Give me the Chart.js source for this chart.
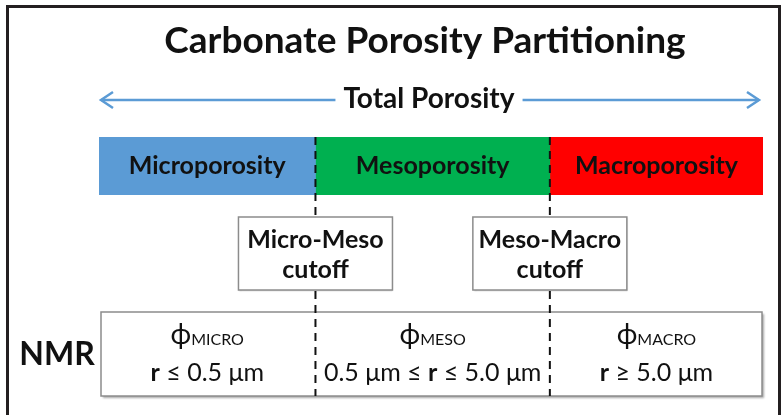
<!DOCTYPE html>
<html>
<head>
<meta charset="utf-8">
<script src="https://cdn.jsdelivr.net/npm/chart.js@4.4.1/dist/chart.umd.min.js"></script>
<style>
  html, body { margin: 0; padding: 0; background: #fff; }
  #wrap { width: 781px; height: 415px; }
</style>
</head>
<body>
<div id="wrap"><canvas id="myChart" width="781" height="415"></canvas></div>
<script>
// diagram content
const chartTitle = 'Carbonate Porosity Partitioning';
const bandLabel = 'Total Porosity';
const partitions = ['Microporosity', 'Mesoporosity', 'Macroporosity'];
const partitionShare = [32.6, 35.3, 32.1]; // width of each class along the band
const partitionColors = ['#5b9bd5', '#00b050', '#ff0000'];
const cutoffLabels = [['Micro-Meso', 'cutoff'], ['Meso-Macro', 'cutoff']];
const nmrLabel = 'NMR';
const nmrSymbols = ['MICRO', 'MESO', 'MACRO'];
const nmrRanges = ['r ≤ 0.5 μm', '0.5 μm ≤ r ≤ 5.0 μm', 'r ≥ 5.0 μm'];

const FONT = 'Lato, "Open Sans", sans-serif';
const INK = '#111';

// write a line made of pieces with their own font, centred on cx
function richText(ctx, pieces, cx, cy) {
    let total = 0;
    pieces.forEach(p => { ctx.font = p.font; p.w = ctx.measureText(p.t).width; total += p.w; });
    let x = cx - total / 2;
    ctx.textAlign = 'left';
    pieces.forEach(p => {
        ctx.font = p.font;
        ctx.textBaseline = 'alphabetic';
        ctx.fillText(p.t, x, cy + (p.dy || 0));
        x += p.w;
    });
}

const diagramPlugin = {
    id: 'diagram',
    afterDraw(chart) {
        const ctx = chart.ctx;
        const xs = chart.scales.x;
        const area = chart.chartArea;

        // cumulative boundaries of the partitions
        const edges = [0];
        partitionShare.forEach(v => edges.push(edges[edges.length - 1] + v));
        const px = edges.map(v => xs.getPixelForValue(v));

        ctx.save();
        ctx.fillStyle = INK;

        // outer frame (open at the bottom)
        ctx.strokeStyle = '#231f20';
        ctx.lineWidth = 3;
        ctx.beginPath();
        ctx.moveTo(7.5, 415);
        ctx.lineTo(7.5, 6.5);
        ctx.lineTo(779.5, 6.5);
        ctx.lineTo(779.5, 415);
        ctx.stroke();

        // title
        ctx.font = 'bold 37px ' + FONT;
        ctx.textAlign = 'center';
        ctx.textBaseline = 'middle';
        ctx.fillText(chartTitle, 425, 41);

        // total porosity arrow
        const ay = 100;
        const tx = (px[0] + px[3]) / 2 - 2;
        ctx.font = 'bold 28px ' + FONT;
        const tw = ctx.measureText(bandLabel).width;
        ctx.fillText(bandLabel, tx, ay - 1);
        ctx.strokeStyle = '#5b9bd5';
        ctx.lineWidth = 2.5;
        const left = px[0] + 2, right = px[3] - 4;
        ctx.beginPath();
        ctx.moveTo(left, ay); ctx.lineTo(tx - tw / 2 - 8, ay);
        ctx.moveTo(tx + tw / 2 + 8, ay); ctx.lineTo(right, ay);
        ctx.stroke();
        ctx.beginPath();
        ctx.moveTo(left + 12, ay - 8); ctx.lineTo(left, ay); ctx.lineTo(left + 12, ay + 8);
        ctx.moveTo(right - 12, ay - 8); ctx.lineTo(right, ay); ctx.lineTo(right - 12, ay + 8);
        ctx.stroke();

        // partition names on the band
        ctx.fillStyle = INK;
        ctx.font = 'bold 25px ' + FONT;
        partitions.forEach((name, i) => {
            ctx.fillText(name, (px[i] + px[i + 1]) / 2, (area.top + area.bottom) / 2);
        });

        // NMR box
        const boxTop = 312, boxBottom = 396;
        ctx.shadowColor = 'rgba(0,0,0,0.35)';
        ctx.shadowOffsetX = 1.5;
        ctx.shadowOffsetY = 1.5;
        ctx.shadowBlur = 2;
        ctx.fillStyle = '#fff';
        ctx.fillRect(px[0] + 2, boxTop, px[3] - px[0] - 3, boxBottom - boxTop);
        ctx.shadowColor = 'transparent';
        ctx.strokeStyle = '#8c8c8c';
        ctx.lineWidth = 1.5;
        ctx.strokeRect(px[0] + 2, boxTop, px[3] - px[0] - 3, boxBottom - boxTop);

        // dashed cutoff lines
        ctx.strokeStyle = '#111';
        ctx.lineWidth = 2;
        ctx.setLineDash([8, 6]);
        [px[1], px[2]].forEach(x => {
            ctx.beginPath();
            ctx.moveTo(x, area.top);
            ctx.lineTo(x, boxBottom);
            ctx.stroke();
        });
        ctx.setLineDash([]);

        // cutoff boxes
        cutoffLabels.forEach((lines, i) => {
            const cx = px[i + 1];
            const w = 154, h = 73, top = 217;
            ctx.shadowColor = 'rgba(0,0,0,0.25)';
            ctx.shadowOffsetX = 1;
            ctx.shadowOffsetY = 1;
            ctx.shadowBlur = 1.5;
            ctx.fillStyle = '#fff';
            ctx.fillRect(cx - w / 2, top, w, h);
            ctx.shadowColor = 'transparent';
            ctx.strokeStyle = '#8c8c8c';
            ctx.lineWidth = 1.5;
            ctx.strokeRect(cx - w / 2, top, w, h);
            ctx.fillStyle = INK;
            ctx.font = 'bold 25px ' + FONT;
            ctx.textAlign = 'center';
            ctx.textBaseline = 'middle';
            ctx.fillText(lines[0], cx, top + 23);
            ctx.fillText(lines[1], cx, top + 53);
        });

        // NMR row
        ctx.fillStyle = INK;
        ctx.font = 'bold 32px ' + FONT;
        ctx.textAlign = 'center';
        ctx.textBaseline = 'middle';
        ctx.fillText(nmrLabel, 57, 355);

        nmrSymbols.forEach((sym, i) => {
            const cx = (px[i] + px[i + 1]) / 2;
            richText(ctx, [
                { t: 'ϕ', font: '28px ' + FONT },
                { t: sym, font: '16px ' + FONT, dy: 1 }
            ], cx, 344);
            const pieces = nmrRanges[i].split(/(\br\b)/).filter(s => s.length).map(s => ({
                t: s,
                font: (s === 'r' ? 'bold ' : '') + '25px ' + FONT
            }));
            richText(ctx, pieces, cx, 381);
        });

        ctx.restore();
    }
};

const datasets = partitions.map((name, i) => ({
    label: name,
    data: [partitionShare[i]],
    backgroundColor: partitionColors[i],
    borderWidth: 0,
    barPercentage: 1,
    categoryPercentage: 1
}));

new Chart(document.getElementById('myChart').getContext('2d'), {
    type: 'bar',
    data: { labels: [bandLabel], datasets: datasets },
    options: {
        indexAxis: 'y',
        responsive: false,
        animation: false,
        layout: { padding: { left: 99, right: 18, top: 137, bottom: 220 } },
        scales: {
            x: { stacked: true, min: 0, max: 100, display: false },
            y: { stacked: true, display: false }
        },
        plugins: {
            legend: { display: false },
            tooltip: { enabled: false }
        }
    },
    plugins: [diagramPlugin]
});
</script>
</body>
</html>
